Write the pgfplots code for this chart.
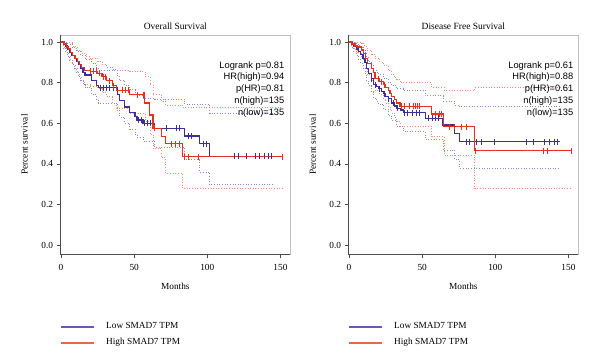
\documentclass[border=0pt]{standalone}
\usepackage{pgfplots}
\pgfplotsset{compat=1.18}
\usepackage{fontspec}
\setmainfont{Liberation Serif}
\newfontfamily\arialfont{Liberation Sans}
\definecolor{kmblue}{RGB}{58,48,150}
\definecolor{kmred}{RGB}{222,50,34}
\definecolor{ciblue}{RGB}{140,132,215}
\definecolor{cired}{RGB}{244,140,120}
\definecolor{legblue}{RGB}{104,88,180}
\definecolor{legred}{RGB}{236,100,70}
\pgfplotsset{
  kmaxis/.style={
    scale only axis, width=229.5bp, height=219bp,
    xmin=-0.3, xmax=156.6, ymin=-0.0443, ymax=1.0345,
    xtick={0,50,100,150}, xticklabels={0,50,100,150},
    ytick={0,0.2,0.4,0.6,0.8,1.0}, yticklabels={0.0,0.2,0.4,0.6,0.8,1.0},
    tick pos=left, tick align=outside, major tick length=4bp,
    tick style={black!70, line width=0.6pt},
    /pgf/number format/assume math mode=true,
    ticklabel style={font=\fontsize{9.3bp}{11bp}\selectfont},
    xticklabel style={yshift=-2.5bp},
    axis line style={draw=black!25, line width=0.6pt},
    xlabel={Months}, ylabel={Percent survival},
    label style={font=\fontsize{9.3bp}{11bp}\selectfont},
    xlabel style={at={(axis description cs:0.5,0)}, anchor=center, yshift=-32.5bp},
    ylabel style={at={(axis description cs:-0.157,0.5)}, anchor=center},
    title style={at={(axis description cs:0.5,1)}, anchor=center, yshift=3bp, font=\fontsize{9.5bp}{11bp}\selectfont},
    clip=false,
    legend cell align=left,
    legend image code/.code={\fill[##1] (0bp,-0.6bp) rectangle (32bp,0.6bp);},
    legend style={at={(axis description cs:0,-0.3676)}, anchor=west, draw=none, fill=none,
      inner xsep=0pt, inner ysep=0pt, row sep=4bp,
      font=\fontsize{9.3bp}{11bp}\selectfont,
      /tikz/every odd column/.append style={column sep=11bp}},
  },
  km/.style={const plot, no marks, line width=1.25pt},
  cens/.style={only marks, mark=|, mark size=3bp, mark options={line width=0.7pt}},
  ci/.style={const plot, no marks, dotted, line width=0.65pt},
}
\begin{document}
\begin{tikzpicture}
\path[use as bounding box] (0,0) rectangle (600bp,357bp);
% ---------------- Overall Survival ----------------
\begin{axis}[kmaxis, at={(60.6bp,103bp)}, anchor=south west, title={Overall Survival}]
\addlegendimage{legblue}
\addlegendentry{Low SMAD7 TPM}
\addlegendimage{legred}
\addlegendentry{High SMAD7 TPM}
% CI bands
\addplot[ci, cired, forget plot] coordinates {(0,1.0)(5,1.0)(8,0.98)(11,0.96)(14,0.945)(17,0.93)(20,0.92)(25,0.905)(28,0.89)(31,0.875)(35,0.865)(38,0.86)(47,0.855)(57.3,0.83)(60.7,0.79)(62.9,0.74)(68.6,0.71)(71.6,0.69)(83,0.676)(151.6,0.676)};
\addplot[ci, cired, forget plot] coordinates {(0,1.0)(2,0.97)(3.5,0.95)(5,0.93)(6.5,0.91)(8,0.89)(9.5,0.87)(11,0.85)(12.5,0.83)(14,0.81)(16,0.79)(20,0.78)(25,0.77)(28,0.75)(31,0.73)(35,0.70)(38,0.675)(47,0.65)(57.3,0.61)(60.7,0.545)(62.9,0.475)(68.6,0.43)(71.6,0.353)(83,0.28)(151.6,0.28)};
\addplot[ci, ciblue, forget plot] coordinates {(0,1.0)(1.5,1.0)(4.5,0.99)(7.5,0.975)(10.5,0.955)(13.5,0.935)(16.4,0.915)(21,0.895)(24.2,0.87)(25.5,0.86)(38.5,0.835)(40,0.81)(43.6,0.785)(47,0.765)(50.5,0.75)(52,0.735)(56.1,0.725)(64.1,0.72)(84.5,0.695)(101.6,0.65)(144.8,0.65)};
\addplot[ci, ciblue, forget plot] coordinates {(0,1.0)(1.5,0.97)(3,0.95)(4.5,0.93)(6,0.91)(7.5,0.89)(9,0.87)(10.5,0.85)(12,0.83)(13.5,0.81)(15,0.79)(16.4,0.775)(21,0.74)(24.2,0.715)(25.5,0.70)(38.5,0.665)(40,0.63)(43.6,0.60)(47,0.57)(50.5,0.545)(52,0.53)(56.1,0.51)(64.1,0.48)(84.5,0.42)(94.8,0.36)(101.6,0.297)(144.8,0.297)};
% KM curves
\addplot[km, kmblue, forget plot] coordinates {(0,1.0)(1.5,0.99)(3,0.98)(4.5,0.965)(6,0.95)(7.5,0.935)(9,0.92)(10.5,0.905)(12,0.89)(13.5,0.87)(15,0.85)(16.4,0.838)(21,0.81)(24.2,0.785)(25.5,0.775)(38.5,0.74)(40,0.71)(43.6,0.68)(47,0.652)(50.5,0.632)(52,0.616)(56.1,0.60)(64.1,0.575)(84.5,0.537)(94.8,0.50)(101.6,0.437)(144.8,0.437)};
\addplot[km, kmred, forget plot] coordinates {(0,1.0)(2,0.99)(3.5,0.975)(5,0.965)(6.5,0.95)(8,0.935)(9.5,0.92)(11,0.905)(12.5,0.89)(14,0.875)(16,0.86)(20,0.855)(25,0.845)(28,0.83)(31,0.81)(35,0.785)(38,0.762)(47,0.74)(57.3,0.70)(60.7,0.64)(62.9,0.575)(68.6,0.535)(71.6,0.50)(83,0.435)(151.6,0.435)};
% censor marks
\addplot[cens, kmblue, forget plot] coordinates {(27,0.775)(29,0.775)(31,0.775)(33,0.775)(36,0.775)(53,0.616)(55,0.616)(57,0.60)(59,0.60)(61,0.60)(72,0.575)(79,0.575)(81,0.575)(87,0.537)(89,0.537)(97,0.50)(99.3,0.50)(118.6,0.437)(121,0.437)(126.6,0.437)(133,0.437)(135.7,0.437)(139,0.437)(141.4,0.437)(143.6,0.437)};
\addplot[cens, kmred, forget plot] coordinates {(20,0.855)(22,0.855)(24,0.855)(26,0.845)(29,0.83)(30,0.83)(33,0.81)(36,0.785)(42,0.762)(44,0.762)(46,0.762)(52,0.74)(56,0.74)(57,0.74)(63.5,0.575)(75.7,0.50)(78,0.50)(81,0.50)(84.5,0.435)(86.8,0.435)(93.6,0.435)(151.6,0.435)};
\draw[black!70, line width=0.8pt] (rel axis cs:0,1) -- (rel axis cs:0,0) -- (rel axis cs:1,0);
\node[anchor=north east, align=right, inner sep=0pt, font=\arialfont\fontsize{9.3bp}{11.8bp}\selectfont] at (axis cs:152.8,0.906) {Logrank p=0.81\\HR(high)=0.94\\p(HR)=0.81\\n(high)=135\\n(low)=135};
\end{axis}
% ---------------- Disease Free Survival ----------------
\begin{axis}[kmaxis, at={(348.6bp,103bp)}, anchor=south west, title={Disease Free Survival}]
\addlegendimage{legblue}
\addlegendentry{Low SMAD7 TPM}
\addlegendimage{legred}
\addlegendentry{High SMAD7 TPM}
% CI bands
\addplot[ci, cired, forget plot] coordinates {(0,1.0)(4,1.0)(8.6,0.995)(10,0.985)(11.5,0.97)(12.5,0.96)(15.5,0.94)(17.7,0.92)(21,0.90)(23.4,0.885)(26.8,0.86)(29,0.84)(31,0.825)(32.5,0.815)(34.8,0.80)(56.4,0.777)(64.8,0.764)(85.9,0.777)(151.8,0.777)};
\addplot[ci, cired, forget plot] coordinates {(0,1.0)(2,0.97)(4,0.96)(6,0.95)(8.6,0.93)(10,0.905)(11.5,0.87)(12.5,0.84)(15.5,0.81)(16.5,0.79)(17.7,0.76)(21,0.74)(23.4,0.72)(25,0.70)(26.8,0.68)(28,0.665)(29,0.65)(31,0.63)(32.5,0.61)(34.8,0.583)(56.4,0.534)(64.8,0.443)(85.9,0.279)(151.8,0.279)};
\addplot[ci, ciblue, forget plot] coordinates {(0,1.0)(3,1.0)(5,0.99)(6.4,0.985)(8,0.975)(9.5,0.96)(10.9,0.945)(12,0.925)(13.2,0.905)(15.5,0.885)(16.6,0.86)(18.5,0.85)(20,0.84)(23.4,0.82)(26.8,0.80)(29,0.785)(32.5,0.77)(37,0.764)(52.1,0.735)(64.3,0.71)(72.3,0.69)(75.7,0.681)(143.9,0.681)};
\addplot[ci, ciblue, forget plot] coordinates {(0,1.0)(1.5,0.975)(3,0.955)(5,0.935)(6.4,0.915)(8,0.895)(9.5,0.87)(10.9,0.845)(12,0.81)(13.2,0.785)(15.5,0.755)(16.6,0.725)(18.5,0.71)(20,0.695)(23.4,0.67)(26.8,0.64)(29,0.615)(32.5,0.585)(37,0.558)(52.1,0.52)(64.3,0.468)(72.3,0.42)(75.7,0.378)(143.9,0.378)};
% KM curves
\addplot[km, kmblue, forget plot] coordinates {(0,1.0)(1.5,0.99)(3,0.977)(5,0.965)(6.4,0.955)(8,0.94)(9.5,0.92)(10.9,0.90)(12,0.87)(13.2,0.845)(15.5,0.82)(16.6,0.79)(18.5,0.78)(20,0.77)(22,0.757)(23.4,0.745)(25,0.733)(26.8,0.72)(29,0.70)(31,0.685)(32.5,0.673)(35,0.665)(37,0.652)(52.1,0.624)(64.3,0.591)(72.3,0.55)(75.7,0.509)(143.9,0.509)};
\addplot[km, kmred, forget plot] coordinates {(0,1.0)(2,0.99)(4,0.98)(6,0.975)(8.6,0.96)(10,0.944)(11.5,0.92)(12.5,0.895)(15.5,0.87)(16.5,0.85)(17.7,0.82)(21,0.805)(23.4,0.79)(25,0.775)(26.8,0.76)(28,0.745)(29,0.73)(31,0.715)(32.5,0.70)(34.8,0.683)(56.4,0.645)(64.8,0.583)(85.9,0.465)(151.8,0.465)};
% censor marks
\addplot[cens, kmblue, forget plot] coordinates {(15,0.82)(18,0.79)(21,0.77)(24,0.745)(27,0.72)(30,0.70)(33,0.673)(38,0.652)(40,0.652)(43,0.652)(46,0.652)(48,0.652)(54.4,0.624)(56.7,0.624)(59,0.624)(61.3,0.624)(80.3,0.509)(82.5,0.509)(87.1,0.509)(90.5,0.509)(99.5,0.509)(121.2,0.509)(125.7,0.509)(133.7,0.509)(137.1,0.509)(140.5,0.509)(142.7,0.509)};
\addplot[cens, kmred, forget plot] coordinates {(20,0.82)(22,0.805)(24,0.79)(36,0.683)(38,0.683)(41,0.683)(44,0.683)(45,0.683)(46.5,0.683)(48,0.683)(59.3,0.645)(61.6,0.645)(63.2,0.645)(68.9,0.583)(72.3,0.583)(76.9,0.583)(80.3,0.583)(86.5,0.465)(132.5,0.465)(135.9,0.465)(151.8,0.465)};
\draw[black!70, line width=0.8pt] (rel axis cs:0,1) -- (rel axis cs:0,0) -- (rel axis cs:1,0);
\node[anchor=north east, align=right, inner sep=0pt, font=\arialfont\fontsize{9.3bp}{11.8bp}\selectfont] at (axis cs:153.4,0.906) {Logrank p=0.61\\HR(high)=0.88\\p(HR)=0.61\\n(high)=135\\n(low)=135};
\end{axis}
\end{tikzpicture}
\end{document}
